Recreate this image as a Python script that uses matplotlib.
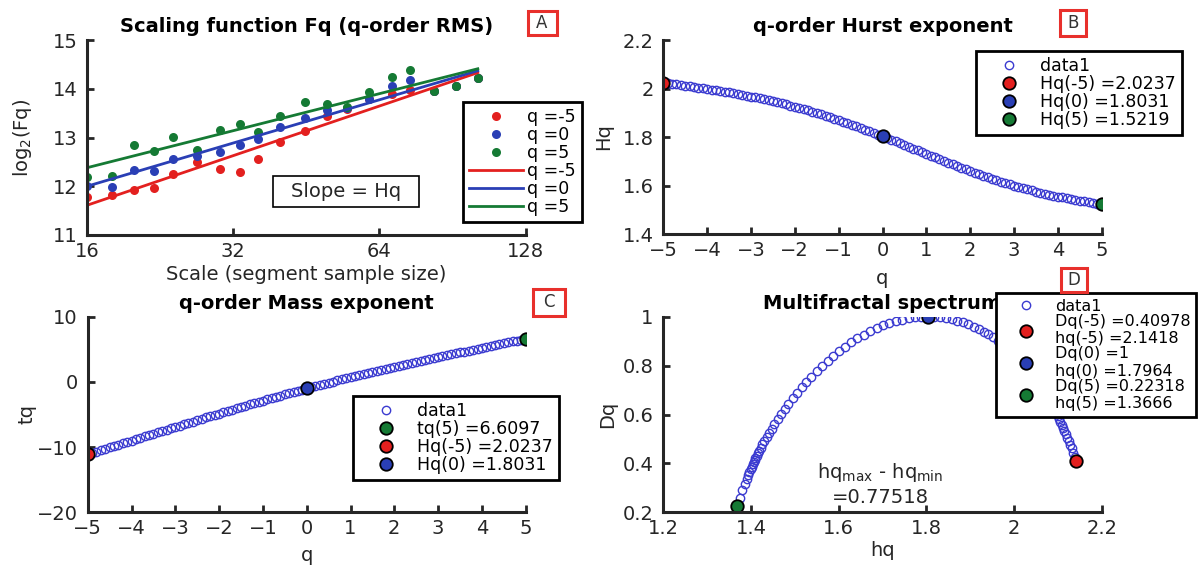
import numpy as np
import matplotlib
matplotlib.use("Agg")
import matplotlib.pyplot as plt
from matplotlib.patches import Rectangle

plt.rcParams['font.family'] = ['DejaVu Sans']

# ---------------- data: panel A (scaling function) ----------------
scales = [16, 18, 20, 22, 24, 27, 30, 33, 36, 40, 45, 50, 55, 61, 68, 74, 83, 92, 102]
fq_qm5 = [11.78, 11.83, 11.93, 11.96, 12.26, 12.50, 12.36, 12.29, 12.56, 12.91, 13.14,
          13.45, 13.58, 13.78, 13.90, 13.98, 13.96, 14.06, 14.22]
fq_q0 = [12.00, 11.99, 12.33, 12.31, 12.56, 12.63, 12.70, 12.84, 12.96, 13.21, 13.40,
         13.57, 13.60, 13.80, 14.06, 14.18, 13.96, 14.06, 14.22]
fq_q5 = [12.19, 12.22, 12.85, 12.72, 13.02, 12.75, 13.16, 13.28, 13.11, 13.45, 13.72,
         13.69, 13.62, 13.94, 14.24, 14.39, 13.96, 14.06, 14.22]
fit_scales = [16, 102]
fit_qm5 = [11.61, 14.33]
fit_q0 = [12.00, 14.37]
fit_q5 = [12.38, 14.41]

# ---------------- data: q-order Hurst exponent ----------------
q = [-5.0, -4.9, -4.8, -4.7, -4.6, -4.5, -4.4, -4.3, -4.2, -4.1,
     -4.0, -3.9, -3.8, -3.7, -3.6, -3.5, -3.4, -3.3, -3.2, -3.1,
     -3.0, -2.9, -2.8, -2.7, -2.6, -2.5, -2.4, -2.3, -2.2, -2.1,
     -2.0, -1.9, -1.8, -1.7, -1.6, -1.5, -1.4, -1.3, -1.2, -1.1,
     -1.0, -0.9, -0.8, -0.7, -0.6, -0.5, -0.4, -0.3, -0.2, -0.1,
     0.0, 0.1, 0.2, 0.3, 0.4, 0.5, 0.6, 0.7, 0.8, 0.9,
     1.0, 1.1, 1.2, 1.3, 1.4, 1.5, 1.6, 1.7, 1.8, 1.9,
     2.0, 2.1, 2.2, 2.3, 2.4, 2.5, 2.6, 2.7, 2.8, 2.9,
     3.0, 3.1, 3.2, 3.3, 3.4, 3.5, 3.6, 3.7, 3.8, 3.9,
     4.0, 4.1, 4.2, 4.3, 4.4, 4.5, 4.6, 4.7, 4.8, 4.9, 5.0]
Hq = [2.02370, 2.02133, 2.01893, 2.01650, 2.01405, 2.01155, 2.00902, 2.00644, 2.00381, 2.00114,
      1.99840, 1.99560, 1.99274, 1.98980, 1.98679, 1.98369, 1.98051, 1.97724, 1.97387, 1.97040,
      1.96683, 1.96315, 1.95936, 1.95545, 1.95142, 1.94728, 1.94300, 1.93861, 1.93408, 1.92943,
      1.92464, 1.91972, 1.91467, 1.90949, 1.90418, 1.89873, 1.89316, 1.88745, 1.88162, 1.87567,
      1.86960, 1.86340, 1.85710, 1.85068, 1.84416, 1.83753, 1.83081, 1.82400, 1.81711, 1.81014,
      1.80310, 1.79599, 1.78883, 1.78162, 1.77437, 1.76708, 1.75977, 1.75244, 1.74511, 1.73777,
      1.73045, 1.72314, 1.71587, 1.70863, 1.70143, 1.69429, 1.68722, 1.68022, 1.67330, 1.66647,
      1.65973, 1.65311, 1.64660, 1.64021, 1.63395, 1.62783, 1.62184, 1.61601, 1.61032, 1.60479,
      1.59942, 1.59421, 1.58917, 1.58429, 1.57957, 1.57502, 1.57062, 1.56639, 1.56231, 1.55838,
      1.55460, 1.55094, 1.54741, 1.54399, 1.54067, 1.53744, 1.53427, 1.53116, 1.52807, 1.52499,
      1.52190]

# legend texts as printed on the chart
labels_A = ['q =-5', 'q =0', 'q =5', 'q =-5', 'q =0', 'q =5']
labels_B = ['data1', 'Hq(-5) =2.0237', 'Hq(0) =1.8031', 'Hq(5) =1.5219']
labels_C = ['data1', 'tq(5) =6.6097', 'Hq(-5) =2.0237', 'Hq(0) =1.8031']
labels_D = ['data1', 'Dq(-5) =0.40978\nhq(-5) =2.1418',
            'Dq(0) =1\nhq(0) =1.7964', 'Dq(5) =0.22318\nhq(5) =1.3666']
width_text = '=0.77518'

# ---------------- derived quantities (MFDFA relations) ----------------
q_arr = np.array(q)
Hq_arr = np.array(Hq)
tq = q_arr * Hq_arr - 1                       # mass exponent
hq = np.gradient(tq, q_arr, edge_order=2)     # singularity exponent
Dq = q_arr * hq - tq                          # singularity dimension

i_m5, i_0, i_5 = q.index(-5.0), q.index(0.0), q.index(5.0)

RED = '#e3201f'
BLUE = '#2a3fb5'
GREEN = '#157a34'
OPEN = '#3b3bd0'
TXT = '#262626'

W, H = 1200, 565
fig = plt.figure(figsize=(12, 5.65), dpi=100)


def fx(x):
    return x / W


def fy(y):
    return 1 - y / H


def add_axes(l, r, t, b):
    return fig.add_axes([fx(l), fy(b), (r - l) / W, (b - t) / H])


def style(ax):
    for s in ['top', 'right']:
        ax.spines[s].set_visible(False)
    for s in ['left', 'bottom']:
        ax.spines[s].set_linewidth(2.2)
        ax.spines[s].set_color(TXT)
    ax.tick_params(which='both', direction='in', length=5, width=2, colors=TXT, labelsize=14)
    ax.tick_params(axis='x', pad=5)
    ax.tick_params(axis='y', pad=7)
    ax.tick_params(which='minor', length=0)


def legend(ax, handles, labels, x, y, fs=12.5, **kw):
    lg = ax.legend(handles, labels, loc='upper left', bbox_to_anchor=(fx(x), fy(y)),
                   bbox_transform=fig.transFigure, frameon=True, fancybox=False,
                   edgecolor='black', framealpha=1, fontsize=fs, borderaxespad=0,
                   handlelength=3.1, handletextpad=0.25, labelspacing=0.0,
                   borderpad=0.35, **kw)
    lg.get_frame().set_linewidth(2)
    return lg


def letter_box(cx, cy, w, h, s):
    fig.add_artist(Rectangle((fx(cx - w / 2), fy(cy + h / 2)), w / W, h / H,
                             transform=fig.transFigure, fill=False,
                             edgecolor='#e8302c', linewidth=2.2))
    fig.text(fx(cx), fy(cy), s, ha='center', va='center', fontsize=12, color='#333333')


OPEN_KW = dict(mfc='none', mec=OPEN, ms=6, mew=1, ls='none', marker='o')
HI_KW = dict(mec='black', ms=9, mew=1.3, ls='none', marker='o')

# ---------------- panel A ----------------
axA = add_axes(87, 525.7, 40, 235)
style(axA)
hA = []
hA += axA.plot(scales, fq_qm5, 'o', color=RED, ms=6.5, mec='none')
hA += axA.plot(scales, fq_q0, 'o', color=BLUE, ms=6.5, mec='none')
hA += axA.plot(scales, fq_q5, 'o', color=GREEN, ms=6.5, mec='none')
hA += axA.plot(fit_scales, fit_qm5, '-', color=RED, lw=2)
hA += axA.plot(fit_scales, fit_q0, '-', color=BLUE, lw=2)
hA += axA.plot(fit_scales, fit_q5, '-', color=GREEN, lw=2)
axA.set_xscale('log', base=2)
axA.set_xlim(16, 128)
axA.set_ylim(11, 15)
axA.set_xticks([16, 32, 64, 128])
axA.set_xticklabels(['16', '32', '64', '128'])
axA.set_yticks([11, 12, 13, 14, 15])
axA.set_title('Scaling function Fq (q-order RMS)', fontsize=14, fontweight='bold', pad=5.5)
axA.set_xlabel('Scale (segment sample size)', fontsize=14, color=TXT)
axA.set_ylabel('log$_2$(Fq)', fontsize=14, color=TXT)
axA.xaxis.set_label_coords(0.5, -0.155)
axA.yaxis.set_label_coords(-0.121, 0.5)
legend(axA, hA, labels_A, 462.7, 101.7)
# slope annotation box
bx, by, bw, bh = 346, 191.5, 146, 31
fig.add_artist(Rectangle((fx(bx - bw / 2), fy(by + bh / 2)), bw / W, bh / H,
                         transform=fig.transFigure, facecolor='white',
                         edgecolor='black', linewidth=1.2))
fig.text(fx(bx), fy(by), 'Slope = Hq', ha='center', va='center', fontsize=14, color=TXT)

# ---------------- panel B ----------------
axB = add_axes(663.3, 1101.7, 40, 234)
style(axB)
hB = []
hB += axB.plot(q, Hq, **OPEN_KW)
hB += axB.plot(q[i_m5], Hq[i_m5], mfc=RED, **HI_KW)
hB += axB.plot(q[i_0], Hq[i_0], mfc=BLUE, **HI_KW)
hB += axB.plot(q[i_5], Hq[i_5], mfc=GREEN, **HI_KW)
axB.set_xlim(-5, 5)
axB.set_ylim(1.4, 2.2)
axB.set_xticks(range(-5, 6))
axB.set_yticks([1.4, 1.6, 1.8, 2.0, 2.2])
axB.set_yticklabels(['1.4', '1.6', '1.8', '2', '2.2'])
axB.set_title('q-order Hurst exponent', fontsize=14, fontweight='bold', pad=5.5)
axB.set_xlabel('q', fontsize=14, color=TXT)
axB.set_ylabel('Hq', fontsize=14, color=TXT)
axB.xaxis.set_label_coords(0.5, -0.18)
axB.yaxis.set_label_coords(-0.115, 0.5)
legend(axB, hB, labels_B, 976, 51)

# ---------------- panel C ----------------
axC = add_axes(87.7, 525.7, 316.7, 512.3)
style(axC)
hC = []
hC += axC.plot(q, tq, **OPEN_KW)
hC += axC.plot(q[i_5], tq[i_5], mfc=GREEN, **HI_KW)
hC += axC.plot(q[i_m5], tq[i_m5], mfc=RED, **HI_KW)
hC += axC.plot(q[i_0], tq[i_0], mfc=BLUE, **HI_KW)
axC.set_xlim(-5, 5)
axC.set_ylim(-20, 10)
axC.set_xticks(range(-5, 6))
axC.set_yticks([-20, -10, 0, 10])
axC.set_title('q-order Mass exponent', fontsize=14, fontweight='bold', pad=5.5)
axC.set_xlabel('q', fontsize=14, color=TXT)
axC.set_ylabel('tq', fontsize=14, color=TXT)
axC.xaxis.set_label_coords(0.5, -0.171)
axC.yaxis.set_label_coords(-0.118, 0.5)
legend(axC, hC, labels_C, 353, 396)

# ---------------- panel D ----------------
axD = add_axes(663.3, 1101.7, 316.7, 512.3)
style(axD)
hD = []
hD += axD.plot(hq, Dq, **OPEN_KW)
hD += axD.plot(hq[i_m5], Dq[i_m5], mfc=RED, **HI_KW)
hD += axD.plot(hq[i_0], Dq[i_0], mfc=BLUE, **HI_KW)
hD += axD.plot(hq[i_5], Dq[i_5], mfc=GREEN, **HI_KW)
axD.set_xlim(1.2, 2.2)
axD.set_ylim(0.2, 1.0)
axD.set_xticks([1.2, 1.4, 1.6, 1.8, 2.0, 2.2])
axD.set_xticklabels(['1.2', '1.4', '1.6', '1.8', '2', '2.2'])
axD.set_yticks([0.2, 0.4, 0.6, 0.8, 1.0])
axD.set_yticklabels(['0.2', '0.4', '0.6', '0.8', '1'])
axD.set_title('Multifractal spectrum', fontsize=14, fontweight='bold', pad=5.5)
axD.set_xlabel('hq', fontsize=14, color=TXT)
axD.set_ylabel('Dq', fontsize=14, color=TXT)
axD.xaxis.set_label_coords(0.5, -0.145)
axD.yaxis.set_label_coords(-0.106, 0.5)
axD.text(0.495, 0.201, r'hq$_{\mathrm{max}}$ - hq$_{\mathrm{min}}$', transform=axD.transAxes,
         ha='center', va='center', fontsize=14, color=TXT)
axD.text(0.495, 0.078, width_text, transform=axD.transAxes,
         ha='center', va='center', fontsize=14, color=TXT)
lgD = legend(axD, hD, labels_D, 996, 293.3, fs=11.5)
lgD.set_zorder(10)

letter_box(542, 23, 29, 24, 'A')
letter_box(1073, 23, 26, 26, 'B')
letter_box(549, 302, 32, 27, 'C')
letter_box(1074, 280, 26, 24, 'D')

fig.savefig('out.png', dpi=100)
